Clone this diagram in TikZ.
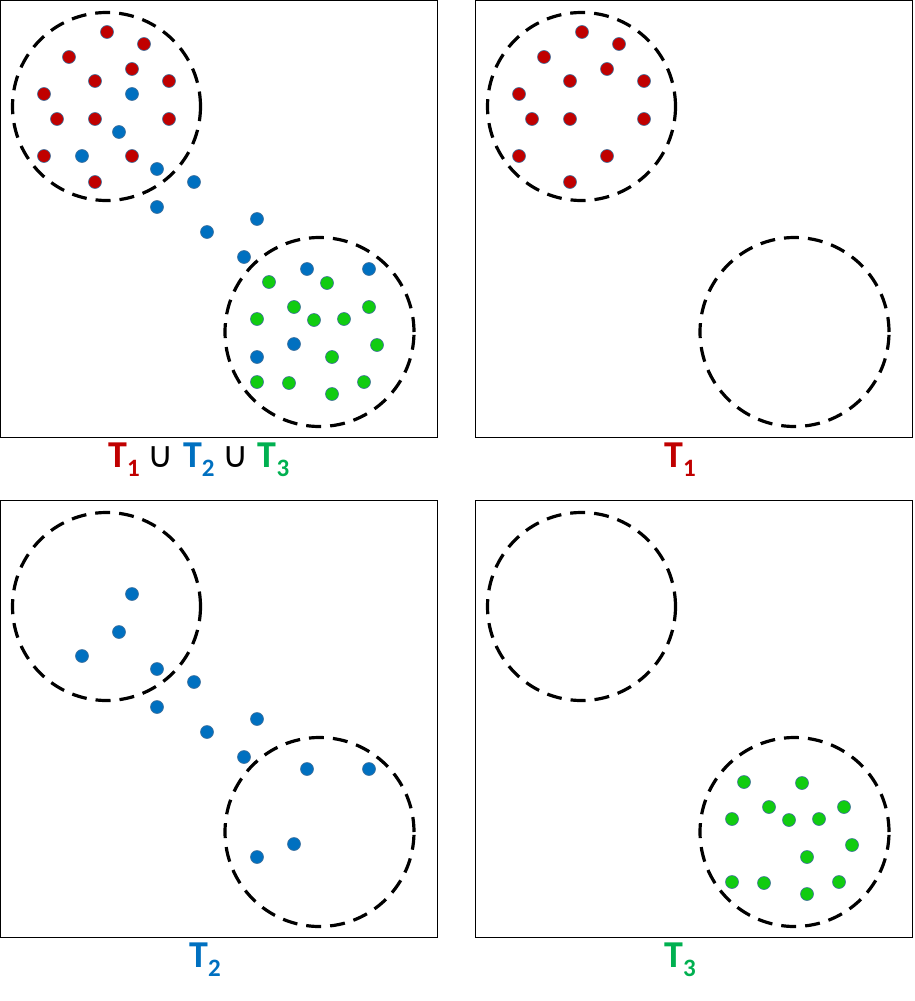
\documentclass[tikz,border=0pt]{standalone}
\usepackage{fontspec}
\setmainfont{Carlito}
\newfontfamily\symfont{DejaVu Sans}
\usepackage{tikz}

\definecolor{tred}{HTML}{C00000}
\definecolor{tblue}{HTML}{0070C0}
\definecolor{tgreen}{HTML}{00B050}
\definecolor{dotgreen}{HTML}{11CC11}
\definecolor{dotedge}{HTML}{41719C}

% T mit Index
\newcommand{\tset}[2]{\textcolor{#1}{T\raisebox{-9pt}{\fontsize{25}{25}\selectfont #2}}}
\newcommand{\unionsym}{{\symfont\mdseries\fontsize{36}{36}\selectfont ∪}}

% Punktlisten (Pixel im linken oberen Feld)
\newcommand{\redpts}{107/32,144/44,69/57,132/69,95/81,169/81,44/94,57/119,95/119,169/119,44/156,132/156,95/182}
\newcommand{\bluepts}{132/94,119/132,82/156,157/169,194/182,157/207,207/232,257/219,244/257,307/269,369/269,294/344,257/357}
\newcommand{\greenpts}{269/282,327/283,294/307,369/307,257/319,314/320,344/319,377/345,332/357,257/382,289/383,364/382,332/394}

\begin{document}
\begin{tikzpicture}[
    x=1pt, y=-1pt,
    panel/.style={draw=black, line width=1.3pt},
    ring/.style={draw=black, line width=3.2pt, dash pattern=on 15pt off 9pt},
    dot/.style={draw=dotedge, line width=0.6pt},
    caption/.style={inner sep=0pt, anchor=base west, font=\fontsize{38}{38}\selectfont\bfseries}
]
\useasboundingbox (0,0) rectangle (914,1001);

% vier Felder
\draw[panel] (0.5,0.5) rectangle (437.5,437.5);
\draw[panel] (475.5,0.5) rectangle (912.5,437.5);
\draw[panel] (0.5,500.5) rectangle (437.5,937.5);
\draw[panel] (475.5,500.5) rectangle (912.5,937.5);

% Kreise in jedem Feld
\foreach \sx/\sy in {0/0,475/0,0/500,475/500} {
  \begin{scope}[shift={(\sx,\sy)}]
    \draw[ring] (106.5,106.5) circle [radius=94pt];
    \draw[ring] (319.5,332) circle [radius=94.5pt];
  \end{scope}
}

% oben links: alle Punkte
\foreach \px/\py in \redpts   {\filldraw[dot, fill=tred] (\px,\py) circle [radius=6.5pt];}
\foreach \px/\py in \bluepts  {\filldraw[dot, fill=tblue] (\px,\py) circle [radius=6.5pt];}
\foreach \px/\py in \greenpts {\filldraw[dot, fill=dotgreen] (\px,\py) circle [radius=6.5pt];}

% oben rechts: T1
\begin{scope}[shift={(475,0)}]
  \foreach \px/\py in \redpts {\filldraw[dot, fill=tred] (\px,\py) circle [radius=6.5pt];}
\end{scope}

% unten links: T2
\begin{scope}[shift={(0,500)}]
  \foreach \px/\py in \bluepts {\filldraw[dot, fill=tblue] (\px,\py) circle [radius=6.5pt];}
\end{scope}

% unten rechts: T3
\begin{scope}[shift={(475,500)}]
  \foreach \px/\py in \greenpts {\filldraw[dot, fill=dotgreen] (\px,\py) circle [radius=6.5pt];}
\end{scope}

% Beschriftungen
\node[caption] (lab1) at (108,467.5) {\tset{tred}{1}\hspace{8pt}\unionsym\hspace{9pt}\tset{tblue}{2}\hspace{8pt}\unionsym\hspace{9pt}\tset{tgreen}{3}};
\node[caption] (lab2) at (664,467.5) {\tset{tred}{1}};
\node[caption] (lab3) at (189,967.5) {\tset{tblue}{2}};
\node[caption] (lab4) at (664,967.5) {\tset{tgreen}{3}};

\end{tikzpicture}
\end{document}
